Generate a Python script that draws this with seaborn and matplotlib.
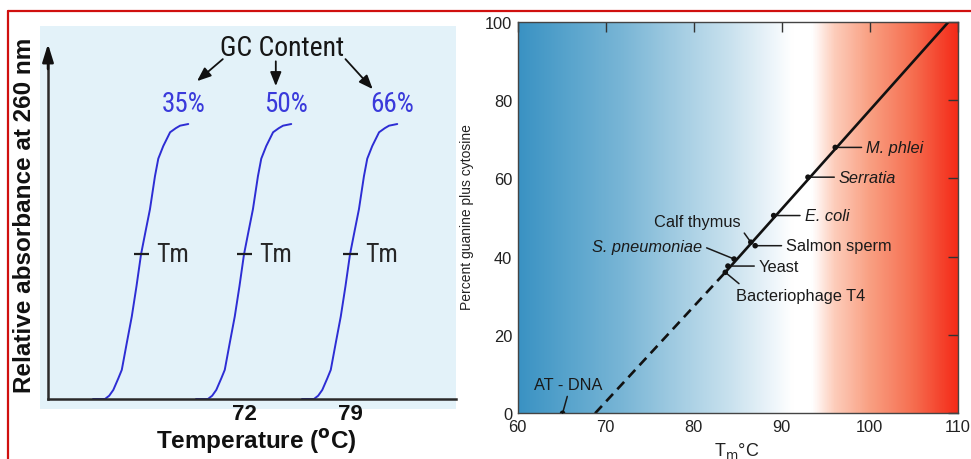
import numpy as np
import matplotlib
matplotlib.use("Agg")
import matplotlib.pyplot as plt
import seaborn as sns
from matplotlib.colors import LinearSegmentedColormap
from matplotlib.lines import Line2D
from matplotlib.patches import Rectangle

sns.set_theme(style="white")
plt.rcParams["font.family"] = ["Liberation Sans", "DejaVu Sans"]
NARROW = ["Roboto Condensed", "Liberation Sans Narrow", "Liberation Sans", "DejaVu Sans"]

# ---- DNA melting curves (left panel) ----
gc_content = [35, 50, 66]
melt_tm = [65.2, 72.0, 79.0]
temp_ticks = [72, 79]
# absorbance profile around Tm (degrees from Tm, relative absorbance)
melt_offset = [-3.17, -2.38, -2.10, -1.83, -1.50, -1.27, -0.94, -0.61, -0.30, 0.0,
               0.30, 0.59, 0.92, 1.14, 1.47, 1.92, 2.30, 2.58, 3.12]
melt_absorbance = [0.0, 0.0, 0.012, 0.033, 0.075, 0.106, 0.204, 0.30, 0.41, 0.526,
                   0.61, 0.69, 0.81, 0.874, 0.92, 0.97, 0.985, 0.994, 1.0]

# ---- Tm versus G+C content (right panel) ----
species = ["AT - DNA", "Bacteriophage T4", "Yeast", "S. pneumoniae", "Salmon sperm",
           "Calf thymus", "E. coli", "Serratia", "M. phlei"]
species_tm = [65.1, 83.6, 83.9, 84.6, 87.0, 86.5, 89.1, 93.0, 96.1]
species_gc = [0.0, 36.0, 37.6, 39.4, 42.8, 43.7, 50.5, 60.3, 67.9]
fit_dashed_tm = [68.8, 83.6]
fit_dashed_gc = [0.0, 36.0]
fit_solid_tm = [83.6, 109.0]
fit_solid_gc = [36.0, 100.0]

W, H = 971, 460
fig = plt.figure(figsize=(W / 100, H / 100), dpi=100)
fig.patch.set_facecolor("white")


def fx(px):
    return px / W


def fy(py):
    return (H - py) / H


# red frame lines
red = "#d0100f"
fig.add_artist(Line2D([fx(8), 1.0], [fy(12), fy(12)], color=red, lw=1.6,
                      transform=fig.transFigure))
fig.add_artist(Line2D([fx(8), fx(8)], [fy(12), 0.0], color=red, lw=1.6,
                      transform=fig.transFigure))

# ---------------- left panel ----------------
fig.add_artist(Rectangle((fx(40), fy(410)), 416 / W, 383 / H, transform=fig.transFigure,
                         facecolor="#e3f2f9", edgecolor="none", zorder=-1))
axL = fig.add_axes([fx(48), fy(400), 408 / W, 355 / H])
axL.set_facecolor("none")
axL.set_xlim(59.057, 86.0)
axL.set_ylim(0, 1.291)
for s in ["top", "right"]:
    axL.spines[s].set_visible(False)
for s in ["left", "bottom"]:
    axL.spines[s].set_color("#2a2a2a")
    axL.spines[s].set_linewidth(1.8)
axL.spines["left"].set_bounds(0, 1.22)
axL.annotate("", xy=(59.057, 1.291), xytext=(59.057, 1.20),
             arrowprops=dict(arrowstyle="-|>,head_length=0.9,head_width=0.28",
                             color="#111111", lw=1.8, shrinkA=0, shrinkB=0))

curve_color = "#2d2dd4"
abs_at_tm = melt_absorbance[melt_offset.index(0.0)]
for gc, tm in zip(gc_content, melt_tm):
    sns.lineplot(x=[tm + d for d in melt_offset], y=melt_absorbance, ax=axL,
                 color=curve_color, lw=1.4, sort=False, estimator=None)
    axL.hlines(abs_at_tm, tm - 0.45, tm + 0.55, color="#1e1e1e", lw=1.6)
    axL.text(tm + 1.02, abs_at_tm, "Tm", ha="left", va="center", fontsize=18.5,
             color="#262626", family=NARROW)
    axL.text(tm + 2.8, 1.073, f"{gc}%", ha="center", va="center", fontsize=19.5,
             color="#3a3adb", family=NARROW)

axL.text(74.5, 1.28, "GC Content", ha="center", va="center", fontsize=20,
         color="#161616", family=NARROW, clip_on=False)
arrow_kw = dict(arrowstyle="-|>,head_length=0.7,head_width=0.28", color="#111111",
                lw=1.3, shrinkA=0, shrinkB=0)
axL.annotate("", xy=(68.9, 1.156), xytext=(70.6, 1.236), arrowprops=arrow_kw,
             annotation_clip=False)
axL.annotate("", xy=(74.1, 1.138), xytext=(74.1, 1.228), arrowprops=arrow_kw,
             annotation_clip=False)
axL.annotate("", xy=(80.5, 1.127), xytext=(78.7, 1.236), arrowprops=arrow_kw,
             annotation_clip=False)

axL.set_xticks(temp_ticks)
axL.set_xticklabels([str(t) for t in temp_ticks], fontsize=16, fontweight="bold",
                    color="#111111")
axL.set_yticks([])
axL.tick_params(axis="x", length=0, pad=3)
axL.set_xlabel("")
axL.set_ylabel("")

fig.text(fx(256), fy(442), r"Temperature ($^{\mathbf{o}}$C)", ha="center", va="center",
         fontsize=17.5, fontweight="bold", color="#111111")
fig.text(fx(25), fy(215), "Relative absorbance at 260 nm", rotation=90, ha="center",
         va="center", fontsize=17.5, fontweight="bold", color="#111111")

# ---------------- right panel ----------------
axR = fig.add_axes([fx(517.7), fy(414.3), 439.8 / W, 391.6 / H])
stops = [(60, "#3a92c3"), (66, "#5aa5cd"), (72, "#7ab6d6"), (78, "#a2cce2"),
         (84, "#c8e1ee"), (88, "#e6f1f8"), (91.2, "#ffffff"), (93.5, "#ffffff"),
         (96, "#fdcdbb"), (100, "#f9a083"), (105, "#f66e50"), (110, "#f42b19")]
cmap = LinearSegmentedColormap.from_list(
    "tm_band", [((t - 60) / 50, c) for t, c in stops])
band = np.linspace(60, 110, 800)[None, :]
axR.imshow(band, extent=(60, 110, 0, 100), aspect="auto", cmap=cmap, origin="lower",
           interpolation="bilinear", zorder=0)

sns.lineplot(x=fit_solid_tm, y=fit_solid_gc, ax=axR, color="#111111", lw=1.9,
             sort=False, estimator=None)
sns.lineplot(x=fit_dashed_tm, y=fit_dashed_gc, ax=axR, color="#111111", lw=1.9,
             sort=False, estimator=None, linestyle=(0, (3.8, 2.4)))
sns.scatterplot(x=species_tm, y=species_gc, ax=axR, color="#111111", s=16,
                edgecolor="none", zorder=5)

# label placement: offset in pixels from the point, alignment, attach point
label_layout = {
    "M. phlei": ((31, 0), "left", (0, 0.5), True),
    "Serratia": ((31, 0), "left", (0, 0.5), True),
    "E. coli": ((31, 0), "left", (0, 0.5), True),
    "Salmon sperm": ((31, 0), "left", (0, 0.5), False),
    "Yeast": ((31, 0), "left", (0, 0.5), False),
    "Bacteriophage T4": ((11, -23), "left", (0.06, 1.0), False),
    "Calf thymus": ((-53, 21), "center", (1.0, 0.0), False),
    "S. pneumoniae": ((-32, 13), "right", (1.0, 0.5), True),
    "AT - DNA": ((6, 29), "center", (0.5, 0.0), False),
}
for name, tm, gc in zip(species, species_tm, species_gc):
    (dx, dy), ha, relpos, italic = label_layout[name]
    axR.annotate(name, xy=(tm, gc), xytext=(dx, dy), textcoords="offset pixels",
                 ha=ha, va="center", fontsize=11.8, color="#1a1a1a",
                 style="italic" if italic else "normal",
                 arrowprops=dict(arrowstyle="-", color="#1a1a1a", lw=1.1,
                                 shrinkA=1, shrinkB=0, relpos=relpos))

axR.set_xlim(60, 110)
axR.set_ylim(0, 100)
axR.set_xticks(range(60, 111, 10))
axR.set_yticks(range(0, 101, 20))
axR.tick_params(direction="in", length=7, width=1, colors="#333333", top=True,
                right=True, labelsize=11.8, labelcolor="#222222", pad=4)
for s in axR.spines.values():
    s.set_color("#444444")
    s.set_linewidth(1.0)
axR.set_xlabel("")
axR.set_ylabel("")
fig.text(fx(737), fy(451), r"T$_\mathrm{m}$°C", ha="center", va="center", fontsize=13,
         color="#222222")
fig.text(fx(466.5), fy(217), "Percent guanine plus cytosine", rotation=90, ha="center",
         va="center", fontsize=10, color="#222222")

fig.savefig("out.png", dpi=100)
